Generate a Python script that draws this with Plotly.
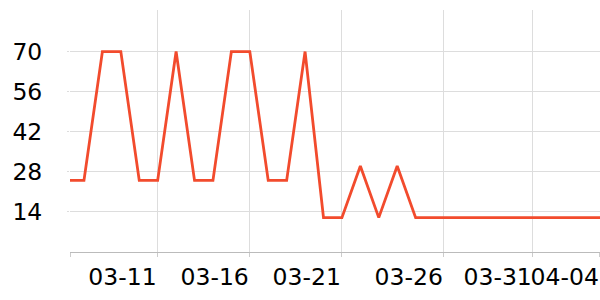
import plotly.graph_objects as go
import pandas as pd

dates = pd.date_range("2024-03-06", "2024-04-05", freq="D").strftime("%Y-%m-%d").tolist()
values = [25, 25, 70, 70, 25, 25, 70, 25, 25, 70, 70, 25, 25, 70, 12, 12, 30, 12, 30, 12,
          12, 12, 12, 12, 12, 12, 12, 12, 12, 12, 12]

x_range = ["2024-03-06 05:48", "2024-04-04 00:10"]
tick_vals = ["2024-03-06 05:48", "2024-03-11", "2024-03-16", "2024-03-21",
             "2024-03-26 12:46", "2024-03-31 08:40", "2024-04-04"]
tick_text = ["", "03-11", "03-16", "03-21", "03-26", "03-31", "04-04"]
y_ticks = [14, 28, 42, 56, 70]

fig = go.Figure()
fig.add_trace(go.Scatter(x=dates, y=values, mode="lines",
                         line=dict(color="#F24B2D", width=2.8), hoverinfo="skip"))

fig.update_layout(
    width=600, height=300,
    margin=dict(l=70, r=0, t=10, b=48),
    paper_bgcolor="white", plot_bgcolor="white",
    showlegend=False,
    font=dict(family="DejaVu Sans", size=23.5, color="#000"),
)
fig.update_xaxes(
    type="date", range=x_range,
    tickmode="array", tickvals=tick_vals, ticktext=tick_text,
    ticklabelposition="outside left", tickangle=0,
    showgrid=True, gridcolor="#dddddd", gridwidth=1,
    showline=True, linecolor="#bbbbbb", linewidth=1,
    ticks="outside", ticklen=4, tickcolor="#cccccc",
    ticklabelstandoff=4,
)
fig.update_yaxes(
    range=[0, 84.5], tickmode="array", tickvals=y_ticks,
    showgrid=True, gridcolor="#dddddd", gridwidth=1,
    zeroline=False, showline=False,
    ticks="outside", ticklen=2, tickcolor="#dddddd",
    ticklabelstandoff=20,
)

fig.write_html("out.html")
